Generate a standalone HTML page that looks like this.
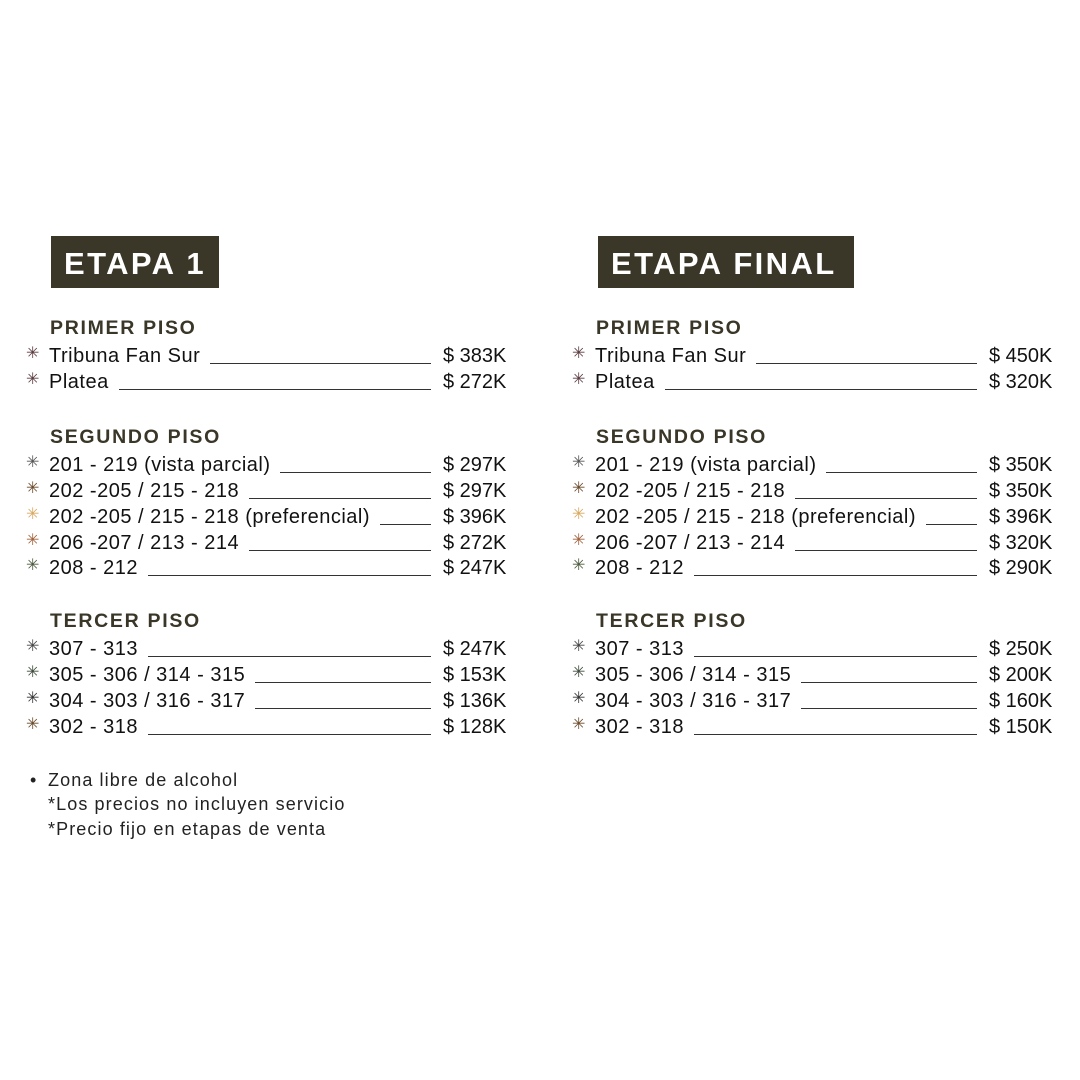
<!DOCTYPE html>
<html><head><meta charset="utf-8"><style>
body{margin:0;width:1080px;height:1080px;background:#fff;position:relative;font-family:"Liberation Sans",sans-serif;color:#111;overflow:hidden}
.box{position:absolute;top:236px;height:52px;background:#3b3728;color:#fff;font-weight:900;font-size:31px;line-height:55px;letter-spacing:2.4px;padding-left:13px;box-sizing:border-box;white-space:nowrap}
.h{position:absolute;font-weight:900;font-size:19.5px;color:#3a3628;letter-spacing:1.7px;line-height:20px}
.row{position:absolute;height:26px;display:flex;align-items:flex-end;font-size:20px;line-height:24px}
.star{position:absolute;font-size:16px;line-height:24px}
.row .t{white-space:nowrap;letter-spacing:0.5px}
.row .l{flex:1;border-bottom:1.3px solid #333;margin:0 12px 4px 10px}
.row .p{width:67px;white-space:nowrap}
.f{position:absolute;left:48px;font-size:18px;line-height:20px;color:#222;letter-spacing:1.1px}
</style></head><body>
<div class="box" style="left:51px;width:168px">ETAPA 1</div>
<div class="box" style="left:598px;width:256px">ETAPA FINAL</div>
<div id="c"></div>
<div class="f" style="left:30px;top:770px">•</div>
<div class="f" style="top:770px">Zona libre de alcohol</div>
<div class="f" style="top:794px">*Los precios no incluyen servicio</div>
<div class="f" style="top:819px">*Precio fijo en etapas de venta</div>
<script>
var heads=[["PRIMER PISO",318],["SEGUNDO PISO",427],["TERCER PISO",611]];
var rows=[
["Tribuna Fan Sur",342,"#5a3a40","$ 383K","$ 450K"],
["Platea",368,"#5a3a40","$ 272K","$ 320K"],
["201 - 219 (vista parcial)",451,"#555","$ 297K","$ 350K"],
["202 -205 / 215 - 218",477,"#6b4a2a","$ 297K","$ 350K"],
["202 -205 / 215 - 218 (preferencial)",503,"#d9a860","$ 396K","$ 396K"],
["206 -207 / 213 - 214",529,"#a0603a","$ 272K","$ 320K"],
["208 - 212",554,"#4a5a3a","$ 247K","$ 290K"],
["307 - 313",635,"#444","$ 247K","$ 250K"],
["305 - 306 / 314 - 315",661,"#3d4a3a","$ 153K","$ 200K"],
["304 - 303 / 316 - 317",687,"#333","$ 136K","$ 160K"],
["302 - 318",713,"#6b4a2a","$ 128K","$ 150K"]];
var h="";
[[49,3],[595,4]].forEach(function(c){
 heads.forEach(function(x){h+='<div class="h" style="left:'+(c[0]+1)+'px;top:'+x[1]+'px">'+x[0]+'</div>';});
 rows.forEach(function(r){
  h+='<div class="star" style="left:'+(c[0]-23)+'px;top:'+r[1]+'px;color:'+r[2]+'">✳</div>';
  h+='<div class="row" style="left:'+c[0]+'px;top:'+r[1]+'px;width:461px"><span class="t">'+r[0]+'</span><span class="l"></span><span class="p">'+r[c[1]]+'</span></div>';
 });
});
document.getElementById("c").innerHTML=h;
</script>
</body></html>
